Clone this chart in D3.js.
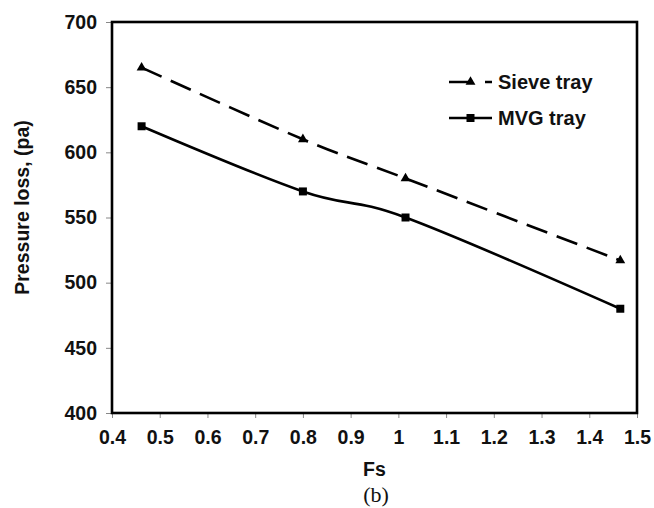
<!DOCTYPE html>
<html>
<head>
<meta charset="utf-8">
<script src="https://cdn.jsdelivr.net/npm/d3@7"></script>
<style>
  html, body { margin: 0; padding: 0; background: #fff; }
  svg { display: block; }
  text { font-family: "Liberation Sans", Arial, sans-serif; font-weight: bold; fill: #111; }
</style>
</head>
<body>
<script>
// Pressure loss versus F-factor for two tray types
const fs = [0.462, 0.80, 1.015, 1.465];
const sieveTray = [665, 610, 580, 517];
const mvgTray = [620, 570, 550, 480];
const xTicks = [0.4, 0.5, 0.6, 0.7, 0.8, 0.9, 1.0, 1.1, 1.2, 1.3, 1.4, 1.5];
const xTickLabels = ["0.4", "0.5", "0.6", "0.7", "0.8", "0.9", "1", "1.1", "1.2", "1.3", "1.4", "1.5"];
const yTicks = [400, 450, 500, 550, 600, 650, 700];
const seriesNames = ["Sieve tray", "MVG tray"];

const W = 654, H = 508;
const plot = { left: 112, top: 22, right: 637, bottom: 413 };
const labelSize = "19.5px";

const svg = d3.select("body").append("svg").attr("width", W).attr("height", H);

const x = d3.scaleLinear().domain([0.4, 1.5]).range([plot.left, plot.right]);
const y = d3.scaleLinear().domain([400, 700]).range([plot.bottom, plot.top]);

// Axes with small outward tick marks
const xAxis = d3.axisBottom(x).tickValues(xTicks)
  .tickFormat((d, i) => xTickLabels[i]).tickSize(5).tickPadding(12);
const yAxis = d3.axisLeft(y).tickValues(yTicks).tickSize(6).tickPadding(9);

const gx = svg.append("g").attr("transform", `translate(0,${plot.bottom})`).call(xAxis);
const gy = svg.append("g").attr("transform", `translate(${plot.left},0)`).call(yAxis);
[gx, gy].forEach(g => {
  g.select(".domain").remove();
  g.selectAll(".tick line").attr("stroke", "#888").attr("stroke-width", 1);
  g.selectAll(".tick text").style("font-size", labelSize).attr("fill", "#111");
});

// Plot frame
svg.append("rect")
  .attr("x", plot.left).attr("y", plot.top)
  .attr("width", plot.right - plot.left).attr("height", plot.bottom - plot.top)
  .attr("fill", "none").attr("stroke", "#000").attr("stroke-width", 2.6);

// Series lines (smoothed)
const line = d3.line().x(d => x(d[0])).y(d => y(d[1])).curve(d3.curveCatmullRom.alpha(0));
const sievePts = fs.map((f, i) => [f, sieveTray[i]]);
const mvgPts = fs.map((f, i) => [f, mvgTray[i]]);

svg.append("path").datum(sievePts).attr("d", line)
  .attr("fill", "none").attr("stroke", "#000").attr("stroke-width", 2.6)
  .attr("stroke-dasharray", "22,10");
svg.append("path").datum(mvgPts).attr("d", line)
  .attr("fill", "none").attr("stroke", "#000").attr("stroke-width", 2.6);

const tri = d3.symbol().type(d3.symbolTriangle).size(42);
const sq = d3.symbol().type(d3.symbolSquare).size(64);

svg.selectAll(".tri").data(sievePts).enter().append("path")
  .attr("d", tri).attr("fill", "#000")
  .attr("transform", d => `translate(${x(d[0])},${y(d[1])})`);
svg.selectAll(".sq").data(mvgPts).enter().append("path")
  .attr("d", sq).attr("fill", "#000")
  .attr("transform", d => `translate(${x(d[0])},${y(d[1])})`);

// Legend
const legend = svg.append("g");
const legRows = [
  { name: seriesNames[0], yy: 82, dash: "24,12", sym: tri },
  { name: seriesNames[1], yy: 118, dash: null, sym: sq }
];
legRows.forEach(r => {
  legend.append("line").attr("x1", 449).attr("x2", 492).attr("y1", r.yy).attr("y2", r.yy)
    .attr("stroke", "#000").attr("stroke-width", 2.6)
    .attr("stroke-dasharray", r.dash);
  legend.append("path").attr("d", r.sym).attr("fill", "#000")
    .attr("transform", `translate(470.5,${r.yy})`);
  legend.append("text").attr("x", 498).attr("y", r.yy).attr("dy", "0.35em")
    .style("font-size", "20px").text(r.name);
});

// Axis titles
svg.append("text").attr("x", (plot.left + plot.right) / 2).attr("y", 476)
  .attr("text-anchor", "middle").style("font-size", labelSize).text("Fs");
svg.append("text")
  .attr("transform", "translate(29,207.5) rotate(-90)")
  .attr("text-anchor", "middle").style("font-size", "19.5px").text("Pressure loss, (pa)");

// Panel caption
svg.append("text").attr("x", 376).attr("y", 502)
  .attr("text-anchor", "middle")
  .style("font-family", "'Liberation Serif', 'Times New Roman', serif")
  .style("font-weight", "normal").style("font-size", "22px").text("(b)");
</script>
</body>
</html>
